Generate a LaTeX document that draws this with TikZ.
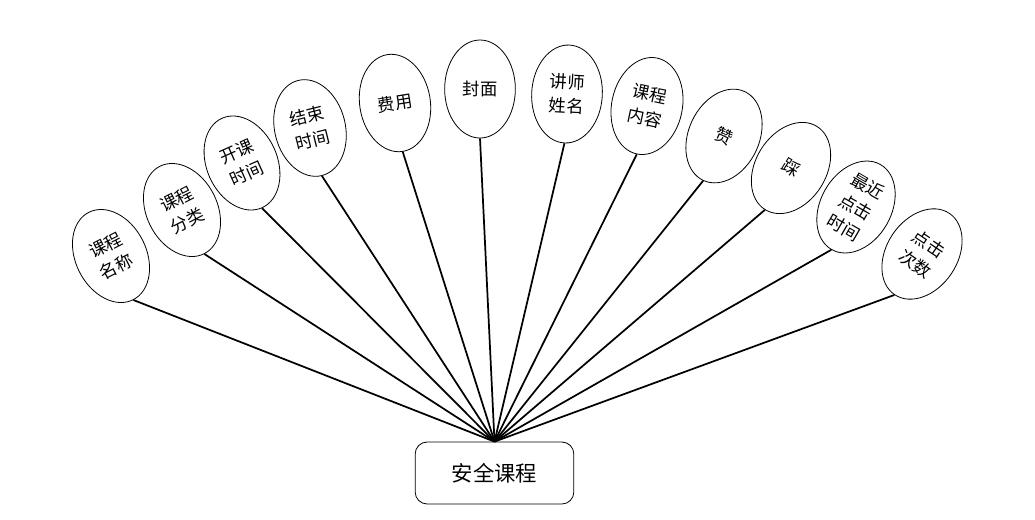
\documentclass[tikz,border=0pt]{standalone}
\usepackage{fontspec}
\newfontfamily\cjk{Noto Sans CJK SC}
\usetikzlibrary{shapes.geometric}
\tikzset{
  attrnode/.style={ellipse, draw, line width=0.6pt, inner sep=0pt, align=center,
    minimum width=53pt, minimum height=73.5pt, font=\cjk\fontsize{13}{18}\selectfont},
  entitybox/.style={draw, line width=0.6pt, rounded corners=9pt, align=center,
    minimum width=119pt, minimum height=46.5pt, font=\cjk\fontsize{16}{20}\selectfont},
  attrlink/.style={line width=1.3pt}
}
\begin{document}
\begin{tikzpicture}[x=0.75pt, y=-0.75pt]
    \useasboundingbox (0,0) rectangle (1035,519);
    \node[entitybox] (course) at (494.5,473) {安全课程};
    % attributes, left to right
    \node[attrnode, rotate=27] (name) at (111,256) {课程\\名称};
    \node[attrnode, rotate=27] (kind) at (182,210) {课程\\分类};
    \node[attrnode, rotate=24] (start) at (242,163) {开课\\时间};
    \node[attrnode, rotate=14] (finish) at (310,128) {结束\\时间};
    \node[attrnode, rotate=9] (fee) at (395,103) {费用};
    \node[attrnode] (cover) at (480,89) {封面};
    \node[attrnode, rotate=-3] (teacher) at (567,94) {讲师\\姓名};
    \node[attrnode, rotate=-12] (content) at (647,106) {课程\\内容};
    \node[attrnode, rotate=-25] (like) at (724,136) {赞};
    \node[attrnode, rotate=-32] (dislike) at (791,168) {踩};
    \node[attrnode, rotate=-30] (lastclick) at (856,207) {最近\\点击\\时间};
    \node[attrnode, rotate=-34] (clicks) at (922,254) {点击\\次数};
    \draw[attrlink] (name.south) -- (course.north);
    \draw[attrlink] (kind.south) -- (course.north);
    \draw[attrlink] (start.south) -- (course.north);
    \draw[attrlink] (finish.south) -- (course.north);
    \draw[attrlink] (fee.south) -- (course.north);
    \draw[attrlink] (cover.south) -- (course.north);
    \draw[attrlink] (teacher.south) -- (course.north);
    \draw[attrlink] (content.south) -- (course.north);
    \draw[attrlink] (like.south) -- (course.north);
    \draw[attrlink] (dislike.south) -- (course.north);
    \draw[attrlink] (lastclick.south) -- (course.north);
    \draw[attrlink] (clicks.south) -- (course.north);
  \end{tikzpicture}
\end{document}
